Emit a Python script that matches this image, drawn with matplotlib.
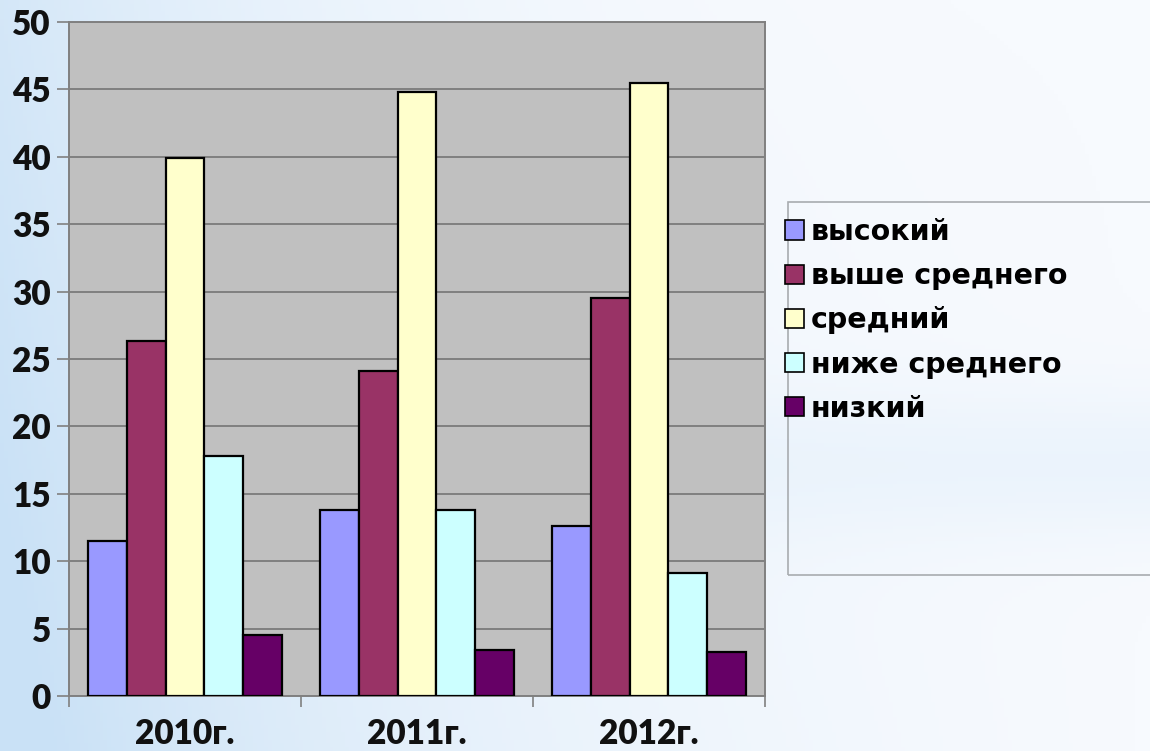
import numpy as np
import matplotlib
matplotlib.use("Agg")
import matplotlib.pyplot as plt
from matplotlib.patches import Rectangle
from matplotlib.colors import LinearSegmentedColormap

categories = ["2010г.", "2011г.", "2012г."]
series_names = ["высокий", "выше среднего", "средний", "ниже среднего", "низкий"]
vysokiy = [11.5, 13.8, 12.6]
vyshe_srednego = [26.3, 24.1, 29.5]
sredniy = [39.9, 44.8, 45.5]
nizhe_srednego = [17.8, 13.8, 9.1]
nizkiy = [4.5, 3.4, 3.3]
yticks = [0, 5, 10, 15, 20, 25, 30, 35, 40, 45, 50]

series = [vysokiy, vyshe_srednego, sredniy, nizhe_srednego, nizkiy]
colors = ["#9999FF", "#993366", "#FFFFCC", "#CCFFFF", "#660066"]

W, H = 1150, 751
fig = plt.figure(figsize=(W / 100, H / 100), dpi=100)

# background gradient
bg = fig.add_axes([0, 0, 1, 1], zorder=-10)
gx = np.linspace(0, 1, 300)
gy = np.linspace(0, 1, 200)
X, Y = np.meshgrid(gx, gy)
val = np.clip(0.75 * (1 - X) ** 3 + 0.35 * Y * (1 - X) + 0.25 * np.exp(-((Y - 0.62) ** 2) / 0.01) * X, 0, 1)
cmap = LinearSegmentedColormap.from_list("bgc", ["#f7fafe", "#c9e1f6"])
bg.imshow(val, cmap=cmap, aspect="auto", extent=[0, 1, 0, 1], origin="upper", vmin=0, vmax=1)
bg.set_axis_off()

ax = fig.add_axes([69 / W, 1 - 696 / H, (765 - 69) / W, (696 - 22) / H])
ax.set_facecolor("#C0C0C0")

n = len(series)
bw = 1.0 / (n + 1)
x = np.arange(len(categories))
for i, (vals, c, name) in enumerate(zip(series, colors, series_names)):
    ax.bar(x + 0.5 + (i - (n - 1) / 2) * bw, vals, width=bw, color=c,
           edgecolor="black", linewidth=1.6, label=name, zorder=3)

ax.set_xlim(0, len(categories))
ax.set_ylim(0, 50)
ax.set_yticks(yticks)
ax.set_yticklabels([str(t) for t in yticks])
ax.set_xticks(np.arange(len(categories) + 1))
ax.set_xticklabels([])
ax.set_xticks(x + 0.5, minor=True)
ax.set_xticklabels(categories, minor=True)
ax.tick_params(axis="x", which="minor", length=0, pad=16)
ax.tick_params(axis="x", which="major", length=8, color="#808080", width=1.2)
ax.tick_params(axis="y", length=9, color="#808080", width=1.2, pad=4)
for lab in ax.get_xticklabels(minor=True) + ax.get_yticklabels():
    lab.set_fontfamily("Lato")
    lab.set_fontweight("heavy")
    lab.set_fontsize(24)
    lab.set_color("#111111")
ax.yaxis.grid(True, color="#808080", linewidth=1.4, zorder=1)
ax.set_axisbelow(True)
for s in ax.spines.values():
    s.set_color("#808080")
    s.set_linewidth(1.4)

# legend frame
fig.patches.append(Rectangle((788 / W, 1 - 575 / H), 400 / W, (575 - 202) / H,
                             transform=fig.transFigure, facecolor="none",
                             edgecolor="#a8acb0", linewidth=1.2, zorder=5))
leg = fig.legend(loc="upper left", bbox_to_anchor=(785 / W, 1 - 218 / H),
                 frameon=False, prop={"family": "DejaVu Sans", "weight": "bold", "size": 20.5},
                 handlelength=0.65, handleheight=0.65, handletextpad=0.25,
                 labelspacing=0.57, borderpad=0, borderaxespad=0)
for h in leg.legend_handles:
    h.set_linewidth(1.2)

fig.savefig("out.png", dpi=100)
